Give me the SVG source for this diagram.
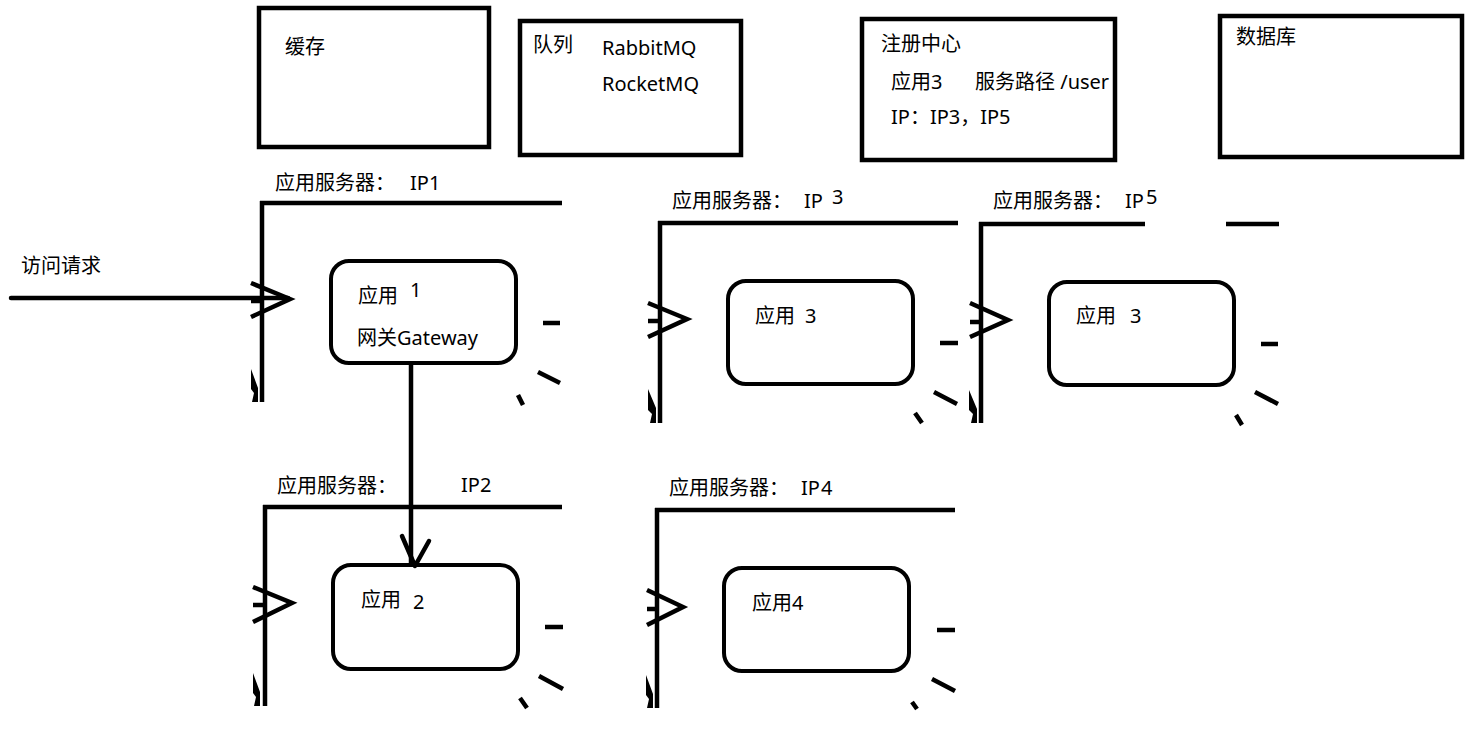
<svg xmlns="http://www.w3.org/2000/svg" width="1483" height="733" viewBox="0 0 1483 733">
<style>
  text { font-family: "Noto Sans", "Noto Sans CJK SC", sans-serif; font-size: 20px; fill: #000; }
  .box { fill: none; stroke: #000; stroke-width: 4.5; }
  .app { fill: #fff; stroke: #000; stroke-width: 4; }
  .ln { fill: none; stroke: #000; stroke-width: 4.5; stroke-linecap: butt; }
  .rd { fill: none; stroke: #000; stroke-width: 4.5; stroke-linecap: round; stroke-linejoin: round; }
</style>
<rect width="1483" height="733" fill="#fff"/>

<g id="cache">
  <rect class="box" x="259" y="8" width="230" height="139"/>
  <text x="285" y="54">缓存</text>
</g>
<g id="queue">
  <rect class="box" x="520" y="21" width="221" height="134"/>
  <text x="533" y="52">队列</text>
  <text x="602" y="55">RabbitMQ</text>
  <text x="602" y="91">RocketMQ</text>
</g>
<g id="registry">
  <clipPath id="regclip"><rect x="863" y="19" width="251" height="141"/></clipPath>
  <rect class="box" x="862" y="19" width="253" height="141"/>
  <text x="881" y="51">注册中心</text>
  <g clip-path="url(#regclip)">
    <text x="891" y="89">应用3</text>
    <text x="975" y="89">服务路径 /user</text>
  </g>
  <text x="891" y="124">IP：IP3，IP5</text>
</g>
<g id="database">
  <rect class="box" x="1220" y="16" width="242" height="141"/>
  <text x="1236" y="44">数据库</text>
</g>

<g id="server1">
  <text x="275" y="190">应用服务器：</text>
  <text x="410" y="190">IP1</text>
  <path class="ln" d="M260 203 H562 M262 201 V402"/>
  <path class="ln" d="M251 283 L290 299 L251 317 M251 301 H262"/>
  <polygon points="251,369 258,388 258,402 252,402 254,393 251,389"/>
  <path class="ln" d="M543 323 H560 M538 372 L560 383 M518 395 L523 405"/>
</g>
<g id="app1">
  <rect class="app" x="331" y="261" width="185" height="102" rx="18"/>
  <text x="358" y="303">应用</text>
  <text x="410" y="297">1</text>
  <text x="357" y="345">网关Gateway</text>
</g>

<g id="server2">
  <text x="277" y="493">应用服务器：</text>
  <text x="461" y="492">IP2</text>
  <path class="ln" d="M263 507 H562 M265 505 V706"/>
  <path class="ln" d="M253 587 L292 603 L253 622 M253 605 H265"/>
  <polygon points="253,673 260,692 260,706 254,706 256,697 253,693"/>
  <path class="ln" d="M545 627 H563 M539 676 L563 689 M520 698 L527 708"/>
</g>
<g id="app2">
  <rect class="app" x="333" y="565" width="185" height="104" rx="18"/>
  <text x="361" y="607">应用</text>
  <text x="413" y="609">2</text>
</g>

<g id="server3">
  <text x="672" y="208">应用服务器：</text>
  <text x="804" y="208">IP</text>
  <text x="832" y="204">3</text>
  <path class="ln" d="M658 223 H958 M660 221 V423"/>
  <path class="ln" d="M648 303 L687 319 L648 337 M648 321 H660"/>
  <polygon points="648,389 656,408 656,423 650,423 652,414 648,410"/>
  <path class="ln" d="M940 343 H958 M934 392 L957 404 M915 413 L922 423"/>
</g>
<g id="app3">
  <rect class="app" x="728" y="281" width="185" height="103" rx="18"/>
  <text x="755" y="323">应用</text>
  <text x="805" y="323">3</text>
</g>

<g id="server5">
  <text x="993" y="208">应用服务器：</text>
  <text x="1125" y="208">IP</text>
  <text x="1146" y="204">5</text>
  <path class="ln" d="M979 224 H1145 M1226 224 H1279 M981 222 V423"/>
  <path class="ln" d="M970 303 L1008 320 L970 337 M970 322 H981"/>
  <polygon points="969,390 977,409 977,423 971,423 973,414 969,410"/>
  <path class="ln" d="M1261 344 H1278 M1255 392 L1278 404 M1236 415 L1242 425"/>
</g>
<g id="app5">
  <rect class="app" x="1049" y="282" width="185" height="103" rx="18"/>
  <text x="1076" y="323">应用</text>
  <text x="1130" y="323">3</text>
</g>

<g id="server4">
  <text x="669" y="495">应用服务器：</text>
  <text x="801" y="495">IP</text>
  <text x="821" y="495">4</text>
  <path class="ln" d="M655 510 H955 M657 508 V708"/>
  <path class="ln" d="M647 590 L683 607 L647 625 M647 609 H657"/>
  <polygon points="646,675 653,694 653,708 647,708 649,699 646,695"/>
  <path class="ln" d="M937 630 H955 M932 679 L955 691 M912 702 L917 709"/>
</g>
<g id="app4">
  <rect class="app" x="724" y="568" width="185" height="103" rx="18"/>
  <text x="752" y="610">应用4</text>
</g>

<g id="request-label">
  <text x="21" y="273">访问请求</text>
</g>

<g id="connectors">
  <path class="rd" d="M11 298 H288"/>
  <path class="ln" d="M411 365 V566"/>
  <path class="rd" d="M402 536 L415 566 L429 541"/>
</g>
</svg>
